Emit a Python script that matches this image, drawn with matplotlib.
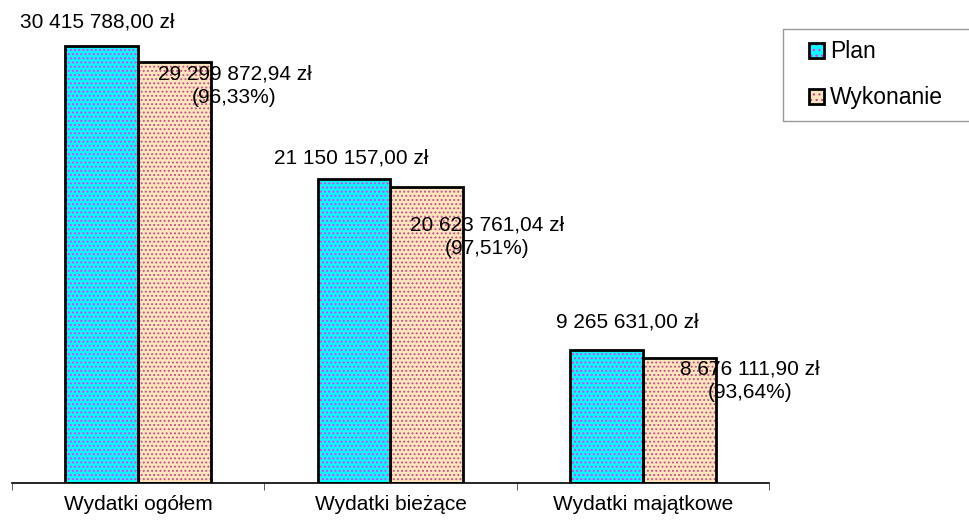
import matplotlib
matplotlib.use("Agg")
import matplotlib.pyplot as plt
from matplotlib.patches import Patch
from matplotlib.legend_handler import HandlerBase
from matplotlib.patches import Rectangle

categories = ["Wydatki ogółem", "Wydatki bieżące", "Wydatki majątkowe"]
plan = [30415788.00, 21150157.00, 9265631.00]
wykonanie = [29299872.94, 20623761.04, 8676111.90]
plan_labels = ["30 415 788,00 zł", "21 150 157,00 zł", "9 265 631,00 zł"]
wyk_labels = ["29 299 872,94 zł\n(96,33%)", "20 623 761,04 zł\n(97,51%)", "8 676 111,90 zł\n(93,64%)"]

# label offsets in pixels (Excel placed them a bit irregularly)
plan_off = [(-5, 24), (-3, 21), (21, 28)]
wyk_off = [(60, -24), (60, -50), (71, -22)]

plt.rcParams["font.family"] = ["Liberation Sans", "DejaVu Sans"]
plt.rcParams["hatch.linewidth"] = 0.9

FS = 15
HATCH = "...."
fig = plt.figure(figsize=(9.7, 5.25), dpi=100)
ax = fig.add_axes([12 / 970, 42 / 525, 757 / 970, 473 / 525])

x = list(range(len(categories)))
w = 0.288
plan_x = [i - w / 2 for i in x]
wyk_x = [i + w / 2 for i in x]

# fill + coloured dots first, black outline on top
ax.bar(plan_x, plan, w, color="#00ffff", edgecolor="#ff22ff", hatch=HATCH, linewidth=0)
ax.bar(wyk_x, wykonanie, w, color="#ffe6bc", edgecolor="#c0508a", hatch=HATCH, linewidth=0)
ax.bar(plan_x, plan, w, fill=False, edgecolor="black", linewidth=2)
ax.bar(wyk_x, wykonanie, w, fill=False, edgecolor="black", linewidth=2)

for i in x:
    ax.annotate(plan_labels[i], (plan_x[i], plan[i]), xytext=plan_off[i],
                textcoords="offset pixels", ha="center", va="center", fontsize=FS)
    ax.annotate(wyk_labels[i], (wyk_x[i], wykonanie[i]), xytext=wyk_off[i],
                textcoords="offset pixels", ha="center", va="center", fontsize=FS,
                linespacing=1.3)

ax.set_xlim(-0.5, 2.5)
ax.set_ylim(0, plan[0] * 473 / 437)
ax.set_xticks(x)
ax.set_xticklabels(categories, fontsize=FS)
ax.set_xticks([-0.5, 0.5, 1.5, 2.5], minor=True)
ax.tick_params(axis="x", which="major", length=0, pad=9)
ax.tick_params(axis="x", which="minor", length=5, direction="out", color="#404040")
ax.set_yticks([])
for s in ["left", "top", "right"]:
    ax.spines[s].set_visible(False)
ax.spines["bottom"].set_linewidth(1.2)


class SquareHandler(HandlerBase):
    def create_artists(self, legend, orig, xd, yd, width, height, fontsize, trans):
        s = 11
        cx = xd + width - s / 2
        cy = yd + height / 2
        fill = Rectangle((cx - s / 2, cy - s / 2), s, s, facecolor=orig.get_facecolor(),
                         edgecolor=orig.get_edgecolor(), hatch="...", linewidth=0,
                         transform=trans)
        edge = Rectangle((cx - s / 2, cy - s / 2), s, s, fill=False, edgecolor="black",
                         linewidth=2, transform=trans)
        return [fill, edge]


handles = [Patch(facecolor="#00ffff", edgecolor="#ff22ff", label="Plan"),
           Patch(facecolor="#ffe6bc", edgecolor="#c0508a", label="Wykonanie")]
leg = fig.legend(handles=handles, loc="upper left",
                 bbox_to_anchor=(783 / 970, 1 - 29 / 525, 200 / 970, 0), mode="expand",
                 fontsize=16.5, frameon=True, fancybox=False, edgecolor="#808080",
                 handler_map={Patch: SquareHandler()}, handlelength=1.3, handleheight=0.7,
                 handletextpad=0.25, labelspacing=1.0, borderpad=0.5, borderaxespad=0)
leg.get_frame().set_linewidth(1)

fig.savefig("out.png", dpi=100)
